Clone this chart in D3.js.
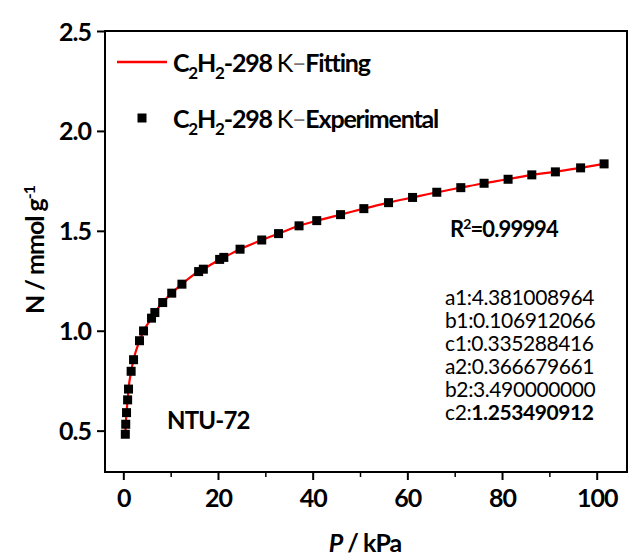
<!DOCTYPE html>
<html>
<head>
<meta charset="utf-8">
<script src="https://cdn.jsdelivr.net/npm/d3@7"></script>
<style>
  html, body { margin: 0; padding: 0; background: #fff; }
  svg { display: block; }
  text { font-family: Lato, "Open Sans", sans-serif; fill: #000; }
</style>
</head>
<body>
<svg id="chart" width="630" height="559"></svg>
<script>
// C2H2 adsorption isotherm at 298 K on NTU-72
const pressure = [0.42, 0.51, 0.68, 0.91, 1.10, 1.65, 2.16, 3.42, 4.27, 5.96, 6.66, 8.32,
  10.23, 12.38, 15.91, 16.90, 20.35, 21.23, 24.66, 29.24, 32.79, 37.12, 40.86, 45.89,
  50.81, 56.03, 61.10, 66.22, 71.29, 76.21, 81.28, 86.29, 91.27, 96.60, 101.56];
const uptake = [0.482, 0.532, 0.590, 0.654, 0.708, 0.797, 0.855, 0.950, 0.999, 1.063, 1.091, 1.141,
  1.188, 1.233, 1.296, 1.308, 1.357, 1.367, 1.408, 1.454, 1.486, 1.525, 1.551, 1.581,
  1.611, 1.641, 1.667, 1.693, 1.716, 1.738, 1.758, 1.780, 1.795, 1.815, 1.835];

const xTicks = [0, 20, 40, 60, 80, 100];
const xMinorTicks = [10, 30, 50, 70, 90];
const yTicks = [0.5, 1.0, 1.5, 2.0, 2.5];

const fitParams = [
  { name: "a1", value: "4.381008964" },
  { name: "b1", value: "0.106912066" },
  { name: "c1", value: "0.335288416" },
  { name: "a2", value: "0.366679661" },
  { name: "b2", value: "3.490000000" },
  { name: "c2", value: "1.253490912", bold: true }
];
const rSquared = "0.99994";
const sampleName = "NTU-72";

const svg = d3.select("#chart");
const plot = { left: 105, right: 627, top: 31, bottom: 472 };

const x = d3.scaleLinear().domain([-3.87, 106.4]).range([plot.left, plot.right]);
const y = d3.scaleLinear().domain([0.293, 2.5]).range([plot.bottom, plot.top]);

// x axis: major ticks with labels, minor ticks without
const xAxis = svg.append("g").attr("transform", `translate(0,${plot.bottom})`)
  .call(d3.axisBottom(x).tickValues(xTicks).tickSize(8).tickSizeOuter(0).tickFormat(d3.format("d")));
xAxis.select(".domain").remove();
xAxis.selectAll(".tick line").attr("stroke", "#000").attr("stroke-width", 2);
xAxis.selectAll(".tick text").attr("y", 12).attr("dy", "0.9em")
  .style("font-size", "25px").style("font-weight", "bold").style("letter-spacing", "-1px");

const xMinor = svg.append("g").attr("transform", `translate(0,${plot.bottom})`)
  .call(d3.axisBottom(x).tickValues(xMinorTicks).tickSize(5).tickSizeOuter(0).tickFormat(""));
xMinor.select(".domain").remove();
xMinor.selectAll(".tick line").attr("stroke", "#000").attr("stroke-width", 1.5);

// y axis
const yAxis = svg.append("g").attr("transform", `translate(${plot.left},0)`)
  .call(d3.axisLeft(y).tickValues(yTicks).tickSize(8).tickSizeOuter(0).tickFormat(d3.format(".1f")));
yAxis.select(".domain").remove();
yAxis.selectAll(".tick line").attr("stroke", "#000").attr("stroke-width", 2);
yAxis.selectAll(".tick text").attr("x", -14).attr("dy", "0.36em")
  .style("font-size", "25px").style("font-weight", "bold").style("letter-spacing", "-1px");

// frame
svg.append("rect")
  .attr("x", plot.left).attr("y", plot.top)
  .attr("width", plot.right - plot.left).attr("height", plot.bottom - plot.top)
  .attr("fill", "none").attr("stroke", "#000").attr("stroke-width", 2);

// fitting curve
const fitLine = d3.line().x((d, i) => x(pressure[i])).y(d => y(d)).curve(d3.curveMonotoneX);
svg.append("path").datum(uptake)
  .attr("d", fitLine)
  .attr("fill", "none").attr("stroke", "#ff0000").attr("stroke-width", 2.2);

// experimental points
const sq = 9;
svg.append("g").selectAll("rect").data(uptake).join("rect")
  .attr("x", (d, i) => x(pressure[i]) - sq / 2)
  .attr("y", d => y(d) - sq / 2)
  .attr("width", sq).attr("height", sq)
  .attr("fill", "#000");

// legend
function legendLabel(g, xPos, yPos, tail) {
  const t = g.append("text").attr("x", xPos).attr("y", yPos)
    .style("font-size", "25px").style("font-weight", "bold").style("letter-spacing", "-1.2px");
  t.append("tspan").text("C");
  t.append("tspan").attr("dy", 7).style("font-size", "17px").text("2");
  t.append("tspan").attr("dy", -7).text("H");
  t.append("tspan").attr("dy", 7).style("font-size", "17px").text("2");
  t.append("tspan").attr("dy", -7).text("-298 ");
  t.append("tspan").style("font-weight", "normal").text("K");
  t.append("tspan").style("font-weight", "normal").style("fill", "#777").text("\u2013");
  t.append("tspan").text(tail);
  return t;
}
const legend = svg.append("g");
legend.append("line").attr("x1", 117).attr("x2", 167).attr("y1", 62).attr("y2", 62)
  .attr("stroke", "#ff0000").attr("stroke-width", 2.5);
legendLabel(legend, 173, 72, "Fitting");
legend.append("rect").attr("x", 142 - sq / 2).attr("y", 118 - sq / 2)
  .attr("width", sq).attr("height", sq).attr("fill", "#000");
legendLabel(legend, 173, 128, "Experimental");

// sample name
svg.append("text").attr("x", 167).attr("y", 429)
  .style("font-size", "24px").style("font-weight", "bold").style("letter-spacing", "-0.8px")
  .text(sampleName);

// goodness of fit
const r2 = svg.append("text").attr("x", 450).attr("y", 237)
  .style("font-size", "22px").style("font-weight", "bold").style("letter-spacing", "-0.9px");
r2.append("tspan").text("R");
r2.append("tspan").attr("dy", -8).style("font-size", "14px").text("2");
r2.append("tspan").attr("dy", 8).text("=" + rSquared);

// fit parameters
const params = svg.append("g");
params.selectAll("text").data(fitParams).join("text")
  .attr("x", 445).attr("y", (d, i) => 305 + i * 23)
  .style("font-size", "21px").style("letter-spacing", "-0.4px")
  .each(function (d) {
    const t = d3.select(this);
    t.append("tspan").text(d.name + ":");
    t.append("tspan").style("font-weight", d.bold ? "bold" : "normal").text(d.value);
  });

// axis titles
const xt = svg.append("text").attr("x", 365).attr("y", 552).attr("text-anchor", "middle")
  .style("font-size", "25px").style("font-weight", "bold").style("letter-spacing", "-1px");
xt.append("tspan").style("font-style", "italic").text("P");
xt.append("tspan").text(" / kPa");

const yt = svg.append("text")
  .attr("transform", "translate(44,250) rotate(-90)").attr("text-anchor", "middle")
  .style("font-size", "25px").style("font-weight", "bold").style("letter-spacing", "-1px");
yt.append("tspan").text("N / mmol g");
yt.append("tspan").attr("dy", -9).style("font-size", "16px").text("-1");
</script>
</body>
</html>
